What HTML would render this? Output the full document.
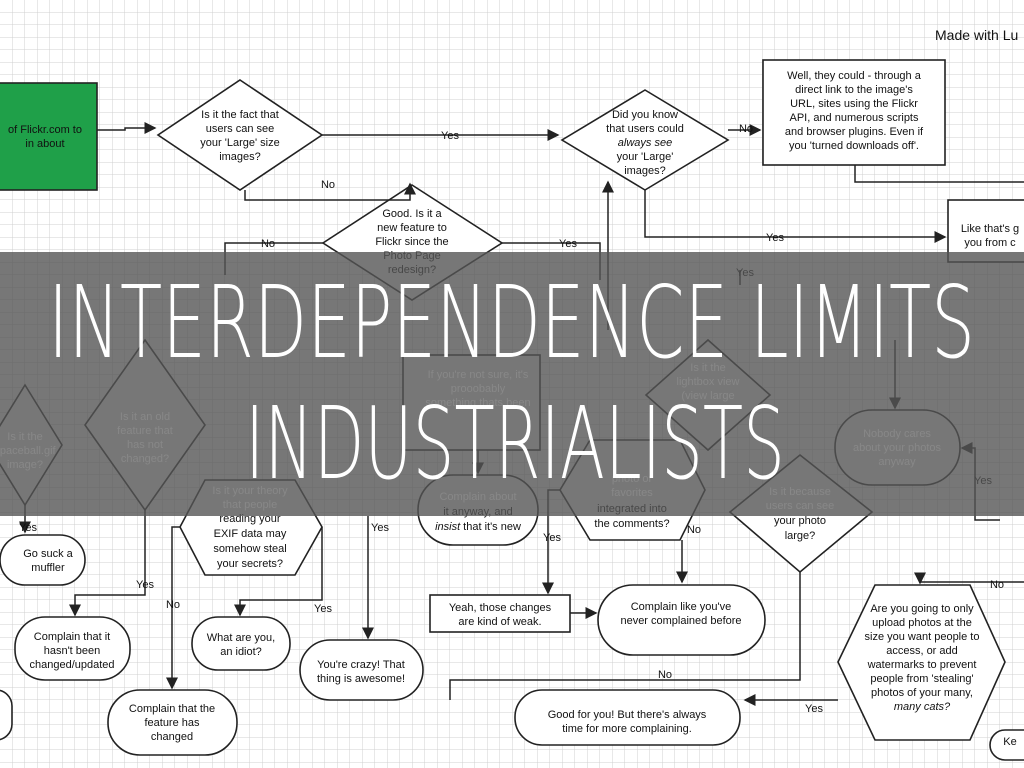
<!DOCTYPE html>
<html><head><meta charset="utf-8"><style>
html,body{margin:0;padding:0;width:1024px;height:768px;overflow:hidden;background:#fff}
svg{display:block}
text{font-family:"Liberation Sans",sans-serif}
.big{font-family:"DejaVu Sans ExtraLight","DejaVu Sans",sans-serif;font-weight:200}
</style></head><body>
<svg width="1024" height="768" viewBox="0 0 1024 768" xmlns="http://www.w3.org/2000/svg">
<defs>
<pattern id="g" width="12.5" height="12.5" patternUnits="userSpaceOnUse">
<path d="M12.5 0V12.5H0" fill="none" stroke="#d0d0d0" stroke-width="1"/>
</pattern>
<marker id="a" markerWidth="8" markerHeight="8" refX="7" refY="4" orient="auto"><path d="M0,0L8,4L0,8z" fill="#222"/></marker>
</defs>
<rect width="1024" height="768" fill="#fff"/>
<rect width="1024" height="768" fill="url(#g)"/>
<g fill="#fff" stroke="#222" stroke-width="1.6">
<rect x="-5" y="83" width="102" height="107" fill="#1fa049"/>
<polygon points="240,80 322,135 240,190 158,135"/>
<polygon points="645,90 728,140 645,190 562,140"/>
<rect x="763" y="60" width="182" height="105"/>
<polygon points="412,185 502,243 412,300 323,243"/>
<rect x="948" y="200" width="90" height="62"/>
<polygon points="145,340 205,425 145,510 85,425"/>
<polygon points="25,385 62,445 25,505 -12,445"/>
<polygon points="205,480 295,480 322,527 295,575 205,575 180,527"/>
<rect x="0" y="535" width="85" height="50" rx="25"/>
<rect x="15" y="617" width="115" height="63" rx="30"/>
<rect x="192" y="617" width="98" height="53" rx="26"/>
<rect x="108" y="690" width="129" height="65" rx="32"/>
<rect x="300" y="640" width="123" height="60" rx="30"/>
<rect x="418" y="475" width="120" height="70" rx="35"/>
<rect x="403" y="355" width="137" height="95"/>
<polygon points="590,440 680,440 705,490 680,540 590,540 560,490"/>
<polygon points="708,340 770,395 708,450 646,395"/>
<polygon points="800,455 872,512 800,572 730,512"/>
<rect x="430" y="595" width="140" height="37"/>
<rect x="598" y="585" width="167" height="70" rx="35"/>
<polygon points="875,585 970,585 1005,662 970,740 875,740 838,662"/>
<rect x="515" y="690" width="225" height="55" rx="27"/>
<rect x="835" y="410" width="125" height="75" rx="37"/>
<rect x="-20" y="690" width="32" height="50" rx="16"/>
<rect x="990" y="730" width="50" height="30" rx="15"/>
</g>
<g fill="none" stroke="#222" stroke-width="1.5">
<path d="M97 130H125V128H155" marker-end="url(#a)"/>
<path d="M322 135H558" marker-end="url(#a)"/>
<path d="M728 130H760" marker-end="url(#a)"/>
<path d="M245 190V200H410V184" marker-end="url(#a)"/>
<path d="M855 165V182H1024"/>
<path d="M645 190V237H945" marker-end="url(#a)"/>
<path d="M323 243H225V275"/>
<path d="M502 243H600V280"/>
<path d="M608 330V182" marker-end="url(#a)"/>
<path d="M145 510V595H75V615" marker-end="url(#a)"/>
<path d="M25 505V532" marker-end="url(#a)"/>
<path d="M180 527H172V688" marker-end="url(#a)"/>
<path d="M322 527V600H240V615" marker-end="url(#a)"/>
<path d="M368 516V638" marker-end="url(#a)"/>
<path d="M478 450V473" marker-end="url(#a)"/>
<path d="M560 490H548V593" marker-end="url(#a)"/>
<path d="M682 540V582" marker-end="url(#a)"/>
<path d="M570 613H596" marker-end="url(#a)"/>
<path d="M800 572V680H450V700"/>
<path d="M838 700H745" marker-end="url(#a)"/>
<path d="M1024 582H920V583" marker-end="url(#a)"/>
<path d="M895 340V408" marker-end="url(#a)"/>
<path d="M1000 520H975V448H962" marker-end="url(#a)"/>
<path d="M740 270V285"/>
</g>
<g font-size="11" fill="#111" text-anchor="middle">
<text x="45" y="133">of Flickr.com to</text><text x="45" y="147">in about</text>
<text x="240" y="118">Is it the fact that</text><text x="240" y="132">users can see</text><text x="240" y="146">your 'Large' size</text><text x="240" y="160">images?</text>
<text x="645" y="118">Did you know</text><text x="645" y="132">that users could</text><text x="645" y="146" font-style="italic">always see</text><text x="645" y="160">your 'Large'</text><text x="645" y="174">images?</text>
<text x="854" y="79">Well, they could - through a</text><text x="854" y="93">direct link to the image's</text><text x="854" y="107">URL, sites using the Flickr</text><text x="854" y="121">API, and numerous scripts</text><text x="854" y="135">and browser plugins.  Even if</text><text x="854" y="149">you 'turned downloads off'.</text>
<text x="412" y="217">Good.  Is it a</text><text x="412" y="231">new feature to</text><text x="412" y="245">Flickr since the</text><text x="412" y="259">Photo Page</text><text x="412" y="273">redesign?</text>
<text x="990" y="232">Like that's g</text><text x="990" y="246">you from c</text>
<text x="450" y="139">Yes</text><text x="746" y="132">No</text><text x="328" y="188">No</text><text x="775" y="241">Yes</text>
<text x="268" y="247">No</text><text x="568" y="247">Yes</text><text x="745" y="276">Yes</text>
<text x="48" y="557">Go suck a</text><text x="48" y="571">muffler</text>
<text x="72" y="640">Complain that it</text><text x="72" y="654">hasn't been</text><text x="72" y="668">changed/updated</text>
<text x="241" y="641">What are you,</text><text x="241" y="655">an idiot?</text>
<text x="172" y="712">Complain that the</text><text x="172" y="726">feature has</text><text x="172" y="740">changed</text>
<text x="361" y="668">You're crazy!  That</text><text x="361" y="682">thing is awesome!</text>
<text x="250" y="522">reading your</text><text x="250" y="537">EXIF data may</text><text x="250" y="552">somehow steal</text><text x="250" y="567">your secrets?</text>
<text x="478" y="515">it anyway, and</text><text x="478" y="530"><tspan font-style="italic">insist</tspan> that it's new</text>
<text x="632" y="512">integrated into</text><text x="632" y="527">the comments?</text>
<text x="800" y="524">your photo</text><text x="800" y="539">large?</text>
<text x="500" y="611">Yeah, those changes</text><text x="500" y="625">are kind of weak.</text>
<text x="681" y="610">Complain like you've</text><text x="681" y="624">never complained before</text>
<text x="922" y="612">Are you going to only</text><text x="922" y="626">upload photos at the</text><text x="922" y="640">size you want people to</text><text x="922" y="654">access, or add</text><text x="922" y="668">watermarks to prevent</text><text x="922" y="682">people from 'stealing'</text><text x="922" y="696">photos of your many,</text><text x="922" y="710" font-style="italic">many cats?</text>
<text x="627" y="718">Good for you!  But there's always</text><text x="627" y="732">time for more complaining.</text>
<text x="1010" y="745">Ke</text>
<text x="145" y="588">Yes</text><text x="28" y="531">Yes</text><text x="173" y="608">No</text><text x="323" y="612">Yes</text>
<text x="380" y="531">Yes</text><text x="552" y="541">Yes</text><text x="694" y="533">No</text><text x="665" y="678">No</text>
<text x="814" y="712">Yes</text><text x="997" y="588">No</text><text x="983" y="484">Yes</text>
</g>
<text x="935" y="40" font-size="14" fill="#111">Made with Lu</text>
<rect x="0" y="252" width="1024" height="264" fill="#555" fill-opacity="0.8"/>
<g fill="#8a8a8a" font-size="11" text-anchor="middle" opacity="0.9">
<text x="145" y="420">Is it an old</text><text x="145" y="434">feature that</text><text x="145" y="448">has not</text><text x="145" y="462">changed?</text>
<text x="25" y="440">Is it the</text><text x="25" y="454">spaceball.gif</text><text x="25" y="468">image?</text>
<text x="478" y="378">If you're not sure, it's</text><text x="478" y="392">prooobably</text><text x="478" y="406">something thats been</text>
<text x="708" y="371">Is it the</text><text x="708" y="385">lightbox view</text><text x="708" y="399">(view large</text>
<text x="897" y="437">Nobody cares</text><text x="897" y="451">about your photos</text><text x="897" y="465">anyway</text>
<text x="250" y="494">Is it your theory</text><text x="250" y="508">that people</text>
<text x="478" y="500">Complain about</text>
<text x="632" y="482">photo or</text><text x="632" y="496">favorites</text>
<text x="800" y="495">Is it because</text><text x="800" y="509">users can see</text>
</g>
<g fill="#fff" font-size="100" class="big">
<text class="big" x="48" y="357" textLength="927" lengthAdjust="spacingAndGlyphs">INTERDEPENDENCE LIMITS</text>
<text class="big" x="245" y="478" textLength="540" lengthAdjust="spacingAndGlyphs">INDUSTRIALISTS</text>
</g>
</svg>
</body></html>
